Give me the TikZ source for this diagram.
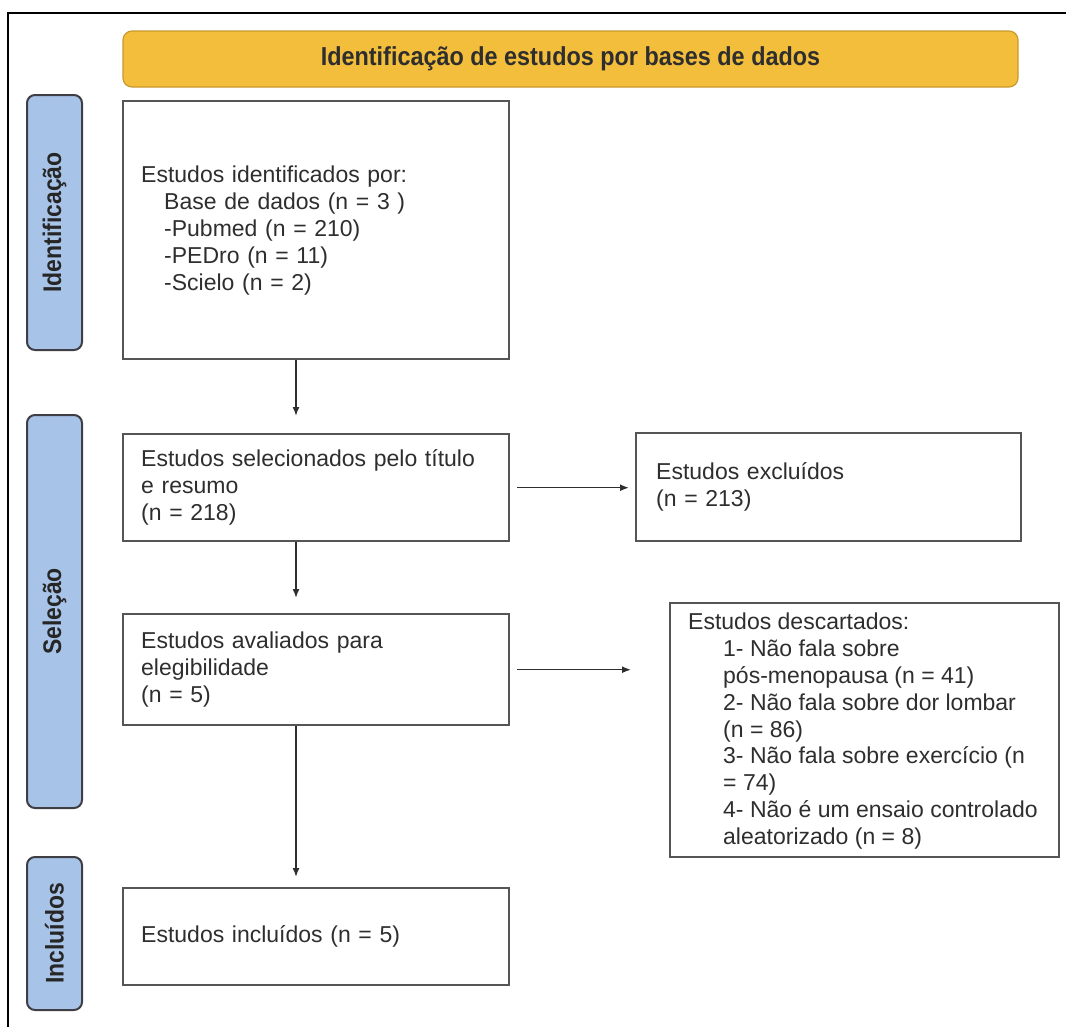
\documentclass[tikz,border=0pt]{standalone}
\usepackage{fontspec}
\setmainfont{Liberation Sans}
\newfontfamily\hdfont[FakeStretch=0.9]{Liberation Sans}
\usetikzlibrary{calc,arrows.meta}
\definecolor{bannerfill}{HTML}{F3BE3B}
\definecolor{bannerdraw}{HTML}{C99A2E}
\definecolor{tabfill}{HTML}{A8C3E8}
\definecolor{tabdraw}{HTML}{3E3E44}
\definecolor{boxdraw}{HTML}{555555}
\definecolor{txt}{HTML}{2E2E2E}
\tikzset{
  banner/.style={draw=bannerdraw, fill=bannerfill, line width=1.2pt, rounded corners=9pt,
    minimum width=895pt, minimum height=56pt, inner sep=0pt,
    font=\hdfont\bfseries\fontsize{26}{30}\selectfont, text=txt},
  tab/.style={draw=tabdraw, fill=tabfill, line width=2pt, rounded corners=8pt,
    minimum width=55pt, inner sep=0pt},
  tablabel/.style={rotate=90, font=\hdfont\bfseries\fontsize{25.5}{30}\selectfont, text=black!85, inner sep=0pt},
  flowbox/.style={draw=boxdraw, line width=2.4pt, anchor=north west, inner ysep=0pt,
    align=left, text=txt, font=\fontsize{23}{27}\selectfont},
  plainbox/.style={draw=boxdraw, line width=2.4pt, anchor=north west, inner sep=0pt},
  boxtext/.style={anchor=west, align=left, inner sep=0pt, text=txt, font=\fontsize{23}{26.8}\selectfont},
  arr/.style={draw=txt, line width=1.5pt, -{Latex[length=9pt,width=7pt]}},
}
\begin{document}
\begin{tikzpicture}[x=1pt,y=-1pt]
\useasboundingbox (0,0) rectangle (1066,1026);
% outer frame
\draw[line width=2pt, black] (8,1030) -- (8,13) -- (1070,13);
% banner
\node[banner] (banner) at (570.5,59) {Identificação de estudos por bases de dados};
% tabs
\node[tab, minimum height=255pt] (t1) at (54.5,222.5) {};
\node[tablabel] (l1) at (t1.center) {Identificação};
\node[tab, minimum height=393pt] (t2) at (54.5,611.5) {};
\node[tablabel] (l2) at (t2.center) {Seleção};
\node[tab, minimum height=153pt] (t3) at (54.5,933.5) {};
\node[tablabel] (l3) at (t3.center) {Incluídos};
% boxes
\node[flowbox, inner xsep=18pt, text width=350pt, minimum height=258pt] (b1) at (122,100)
  {Estudos identificados por:\\
   \hspace*{23pt}Base de dados (n = 3 )\\
   \hspace*{23pt}-Pubmed (n = 210)\\
   \hspace*{23pt}-PEDro (n = 11)\\
   \hspace*{23pt}-Scielo (n = 2)};
\node[flowbox, inner xsep=18pt, text width=350pt, minimum height=107pt] (b2) at (122,433)
  {Estudos selecionados pelo título\\ e resumo\\ (n = 218)};
\node[flowbox, inner xsep=20pt, text width=345pt, minimum height=108pt] (ex) at (635,432)
  {Estudos excluídos\\ (n = 213)};
\node[flowbox, inner xsep=18pt, text width=350pt, minimum height=111pt] (b3) at (122,613)
  {Estudos avaliados para\\ elegibilidade\\ (n = 5)};
\node[plainbox, minimum width=389pt, minimum height=254pt] (ds) at (669,602) {};
\node[boxtext] (dstext) at ($(ds.west)+(19,1)$)
  {Estudos descartados:\\
   \hspace*{35pt}1- Não fala sobre\\
   \hspace*{35pt}pós-menopausa (n = 41)\\
   \hspace*{35pt}2- Não fala sobre dor lombar\\
   \hspace*{35pt}(n = 86)\\
   \hspace*{35pt}3- Não fala sobre exercício (n\\
   \hspace*{35pt}= 74)\\
   \hspace*{35pt}4- Não é um ensaio controlado\\
   \hspace*{35pt}aleatorizado (n = 8)};
\node[flowbox, inner xsep=18pt, text width=350pt, minimum height=97pt] (b4) at (122,887)
  {Estudos incluídos (n = 5)};
% connectors
\draw[arr] ($(b1.south west)+(174,0)$) -- ($(b2.north west)+(174,-17)$);
\draw[arr] ($(b2.south west)+(174,0)$) -- ($(b3.north west)+(174,-15)$);
\draw[arr] ($(b3.south west)+(174,0)$) -- ($(b4.north west)+(174,-10)$);
\draw[arr] ($(b2.east)+(7,0)$) -- ($(b2.east -| ex.west)+(-6,0)$);
\draw[arr] ($(b3.east)+(7,0)$) -- ($(b3.east -| ds.west)+(-38,0)$);
\end{tikzpicture}
\end{document}
